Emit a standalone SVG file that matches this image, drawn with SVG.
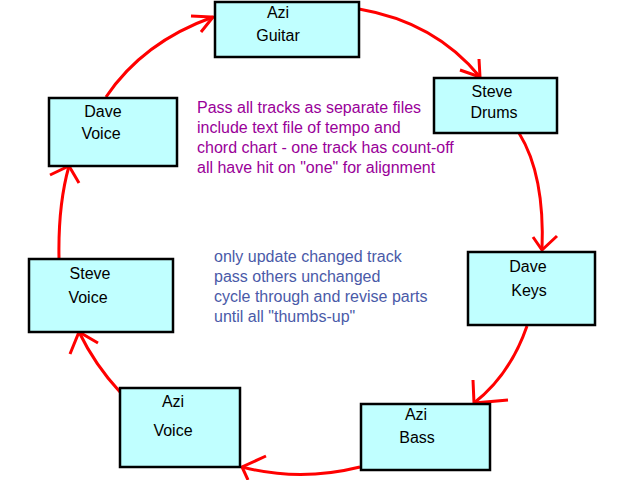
<svg xmlns="http://www.w3.org/2000/svg" width="640" height="480" viewBox="0 0 640 480">
<style>
.box{fill:#c0ffff;stroke:#000;stroke-width:2.5}
.lbl{font-family:"Liberation Sans",Arial,sans-serif;font-size:16px;fill:#000;text-anchor:middle}
.note1{font-family:"Liberation Sans",Arial,sans-serif;font-size:16px;fill:#990099}
.note2{font-family:"Liberation Sans",Arial,sans-serif;font-size:16px;fill:#4a5aa8}
.edge{fill:none;stroke:#ff0000;stroke-width:3;stroke-linecap:butt;stroke-linejoin:miter}
</style>
<rect width="640" height="480" fill="#fff"/>
<g id="connectors">
<path class="edge" d="M106,97 Q143,42 213,17"/>
<path class="edge" d="M191,16 L213,17 L201,32"/>
<path class="edge" d="M359,9 Q435,22 480,77"/>
<path class="edge" d="M460,70 L480,77 L479,59"/>
<path class="edge" d="M519,133 Q545,175 542,250"/>
<path class="edge" d="M533,237 L542,250 L557,236"/>
<path class="edge" d="M527,326 Q510,375 474,403"/>
<path class="edge" d="M473,380 L474,403 L508,400"/>
<path class="edge" d="M360,467 Q300,482 242,467"/>
<path class="edge" d="M266,456 L242,467 L248,480"/>
<path class="edge" d="M120,392 Q95,365 79,332"/>
<path class="edge" d="M70,354 L79,332 L98,343"/>
<path class="edge" d="M59,258 Q58,205 69,166"/>
<path class="edge" d="M50,175 L69,166 L79,183"/>
</g>
<g id="azi-guitar">
<rect class="box" x="215" y="2" width="144" height="55"/>
<text class="lbl" x="278" y="18">Azi</text>
<text class="lbl" x="278" y="41">Guitar</text>
</g>
<g id="steve-drums">
<rect class="box" x="434" y="78" width="123" height="55"/>
<text class="lbl" x="492" y="97">Steve</text>
<text class="lbl" x="494" y="118">Drums</text>
</g>
<g id="dave-keys">
<rect class="box" x="468" y="252" width="127" height="73"/>
<text class="lbl" x="528" y="272">Dave</text>
<text class="lbl" x="529" y="296">Keys</text>
</g>
<g id="azi-bass">
<rect class="box" x="361" y="404" width="129" height="66"/>
<text class="lbl" x="416" y="420">Azi</text>
<text class="lbl" x="417" y="443">Bass</text>
</g>
<g id="azi-voice">
<rect class="box" x="120" y="388" width="120" height="79"/>
<text class="lbl" x="173" y="407">Azi</text>
<text class="lbl" x="173" y="436">Voice</text>
</g>
<g id="steve-voice">
<rect class="box" x="29" y="259" width="144" height="73"/>
<text class="lbl" x="90" y="279">Steve</text>
<text class="lbl" x="88" y="303">Voice</text>
</g>
<g id="dave-voice">
<rect class="box" x="49" y="98" width="128" height="68"/>
<text class="lbl" x="103" y="117">Dave</text>
<text class="lbl" x="101" y="139">Voice</text>
</g>
<g id="note-pass">
<text class="note1" x="197" y="113">Pass all tracks as separate files</text>
<text class="note1" x="197" y="133">include text file of tempo and</text>
<text class="note1" x="197" y="153">chord chart - one track has count-off</text>
<text class="note1" x="197" y="173">all have hit on "one" for alignment</text>
</g>
<g id="note-update">
<text class="note2" x="214" y="262">only update changed track</text>
<text class="note2" x="214" y="282">pass others unchanged</text>
<text class="note2" x="214" y="302">cycle through and revise parts</text>
<text class="note2" x="214" y="322">until all "thumbs-up"</text>
</g>
</svg>
